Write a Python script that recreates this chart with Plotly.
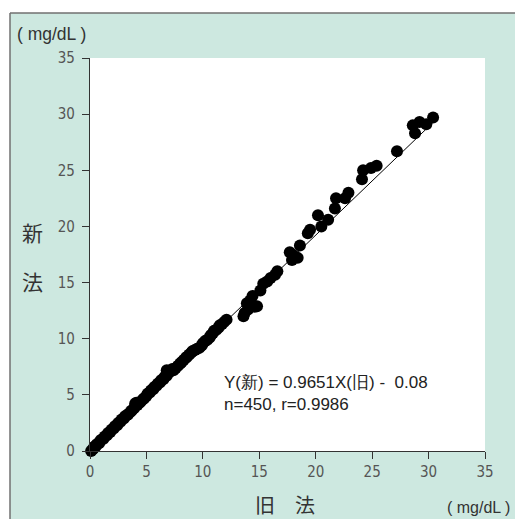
import plotly.graph_objects as go

# ---- data ----
old_method = [
    0.1, 0.2, 0.3, 0.4, 0.5, 0.6, 0.8, 0.9, 1.0, 1.2, 1.3, 1.5, 1.6, 1.8, 1.9, 2.1,
    2.2, 2.4, 2.5, 2.7, 2.8, 3.0, 3.1, 3.3, 3.4, 3.6, 3.7, 3.9, 4.0, 4.1, 4.2, 4.4,
    4.5, 4.7, 4.8, 5.0, 5.1, 5.3, 5.4, 5.6, 5.7, 5.9, 6.0, 6.2, 6.3, 6.5, 6.6, 6.8,
    6.8, 7.0, 7.1, 7.3, 7.4, 7.6, 7.8, 8.0, 8.1, 8.3, 8.5, 8.6, 8.8, 9.0, 9.1, 9.3,
    9.5, 9.7, 9.9, 10.0, 10.2, 10.4, 10.6, 10.7, 10.9, 11.0, 11.2, 11.4, 11.5, 11.7,
    11.9, 12.1,
    13.6, 13.7, 13.9, 14.0, 14.2, 14.4, 14.6, 14.8, 15.1, 15.35, 15.7, 16.0, 16.4, 16.6,
    17.7, 17.9, 18.0, 18.4, 18.6, 19.3, 19.5, 20.2, 20.5, 21.1, 21.7, 21.8, 22.6, 22.9,
    24.1, 24.2, 24.9, 25.4, 27.2, 28.6, 28.8, 29.2, 29.8, 30.4,
]
new_method = [
    0.0, 0.1, 0.2, 0.4, 0.4, 0.6, 0.7, 0.9, 1.0, 1.1, 1.3, 1.4, 1.6, 1.7, 1.9, 2.0,
    2.2, 2.3, 2.5, 2.6, 2.8, 2.9, 3.1, 3.2, 3.3, 3.5, 3.6, 3.8, 4.2, 4.3, 4.1, 4.3,
    4.4, 4.6, 4.7, 4.9, 5.1, 5.2, 5.4, 5.5, 5.7, 5.8, 6.0, 6.1, 6.3, 6.4, 6.6, 6.7,
    7.2, 7.0, 7.1, 7.3, 7.2, 7.4, 7.6, 7.8, 7.9, 8.1, 8.3, 8.4, 8.6, 8.8, 8.9, 9.0,
    9.1, 9.2, 9.4, 9.6, 9.8, 9.9, 10.1, 10.3, 10.5, 10.7, 10.8, 11.0, 11.2, 11.3,
    11.5, 11.7,
    12.0, 12.3, 13.15, 12.6, 13.4, 13.8, 12.85, 12.9, 14.3, 14.9, 15.1, 15.4, 15.7, 16.0,
    17.7, 17.0, 17.45, 17.2, 18.3, 19.4, 19.7, 21.0, 20.0, 20.6, 21.6, 22.5, 22.5, 23.0,
    24.2, 25.0, 25.2, 25.4, 26.7, 29.0, 28.3, 29.3, 29.1, 29.7,
]
fit_x = [0.0, 30.5]
fit_y = [-0.08, 29.36]
tick_vals = [0, 5, 10, 15, 20, 25, 30, 35]
tick_text = ["0", "5", "10", "15", "20", "25", "30", "35"]

# ---- layout geometry (pixels) ----
W, H = 515, 519
L, R, T, B = 90, 30, 58, 68
PW, PH = W - L - R, H - T - B


def px(x):
    return (x - L) / PW


def py(y):
    return (H - B - y) / PH


GREEN = "#cde8e0"
BORDER = "#707070"
TXT = "#333333"
TICKFONT = dict(family="DejaVu Sans Condensed, Liberation Sans Narrow, Arial Narrow, sans-serif",
                size=15, color="#555555")
SANS = "Liberation Sans, Arial, sans-serif"
CJK = "Noto Sans CJK JP, Noto Sans CJK SC, sans-serif"

fig = go.Figure()
fig.add_trace(go.Scatter(x=fit_x, y=fit_y, mode="lines",
                         line=dict(color="black", width=1), hoverinfo="skip",
                         showlegend=False, cliponaxis=False))
fig.add_trace(go.Scatter(x=old_method, y=new_method, mode="markers",
                         marker=dict(color="black", size=12, line=dict(width=0)),
                         showlegend=False, cliponaxis=False))

axis_common = dict(range=[0, 35], tickvals=tick_vals, ticktext=tick_text,
                   showline=True, linecolor="#333333", linewidth=1.2,
                   ticks="outside", ticklen=7, tickwidth=1.2, tickcolor="#333333",
                   showgrid=False, zeroline=False, tickfont=TICKFONT, fixedrange=True)

shapes = [
    # white strips outside the green panel (top and left)
    dict(type="rect", xref="paper", yref="paper", layer="below",
         x0=px(-5), x1=px(W + 5), y0=py(13), y1=py(-5),
         fillcolor="white", line=dict(width=0)),
    dict(type="rect", xref="paper", yref="paper", layer="below",
         x0=px(-5), x1=px(10), y0=py(H + 5), y1=py(-5),
         fillcolor="white", line=dict(width=0)),
    # panel border (top and left)
    dict(type="line", xref="paper", yref="paper", layer="below",
         x0=px(10), x1=px(W + 5), y0=py(13), y1=py(13),
         line=dict(color=BORDER, width=1.5)),
    dict(type="line", xref="paper", yref="paper", layer="below",
         x0=px(10), x1=px(10), y0=py(13), y1=py(H + 5),
         line=dict(color=BORDER, width=1.5)),
]

fig.update_layout(
    width=W, height=H,
    margin=dict(l=L, r=R, t=T, b=B, pad=0),
    paper_bgcolor=GREEN, plot_bgcolor="white",
    xaxis=dict(**axis_common),
    yaxis=dict(**axis_common, ticklabelstandoff=4),
    shapes=shapes,
    annotations=[
        dict(text="( mg/dL )", x=px(15), y=py(34), xref="paper", yref="paper",
             xanchor="left", yanchor="middle", showarrow=False,
             font=dict(family=SANS, size=17.5, color=TXT)),
        dict(text="新", x=px(32.5), y=py(232), xref="paper", yref="paper",
             xanchor="center", yanchor="middle", showarrow=False,
             font=dict(family=CJK, size=21, color=TXT)),
        dict(text="法", x=px(32.5), y=py(281), xref="paper", yref="paper",
             xanchor="center", yanchor="middle", showarrow=False,
             font=dict(family=CJK, size=21, color=TXT)),
        dict(text="旧　法", x=px(285), y=py(504), xref="paper", yref="paper",
             xanchor="center", yanchor="middle", showarrow=False,
             font=dict(family=CJK, size=20, color=TXT)),
        dict(text="( mg/dL )", x=px(512), y=py(507), xref="paper", yref="paper",
             xanchor="right", yanchor="middle", showarrow=False,
             font=dict(family=SANS, size=16, color=TXT)),
        dict(text="Y(新) = 0.9651X(旧) -  0.08", x=px(222), y=py(382), xref="paper", yref="paper",
             xanchor="left", yanchor="middle", showarrow=False,
             font=dict(family=SANS, size=17, color="#222222")),
        dict(text="n=450, r=0.9986", x=px(222), y=py(404), xref="paper", yref="paper",
             xanchor="left", yanchor="middle", showarrow=False,
             font=dict(family=SANS, size=17, color="#222222")),
    ],
)

fig.write_html("out.html", config={"displayModeBar": False},
               post_script="document.body.style.margin='0';document.body.style.overflow='hidden';")
